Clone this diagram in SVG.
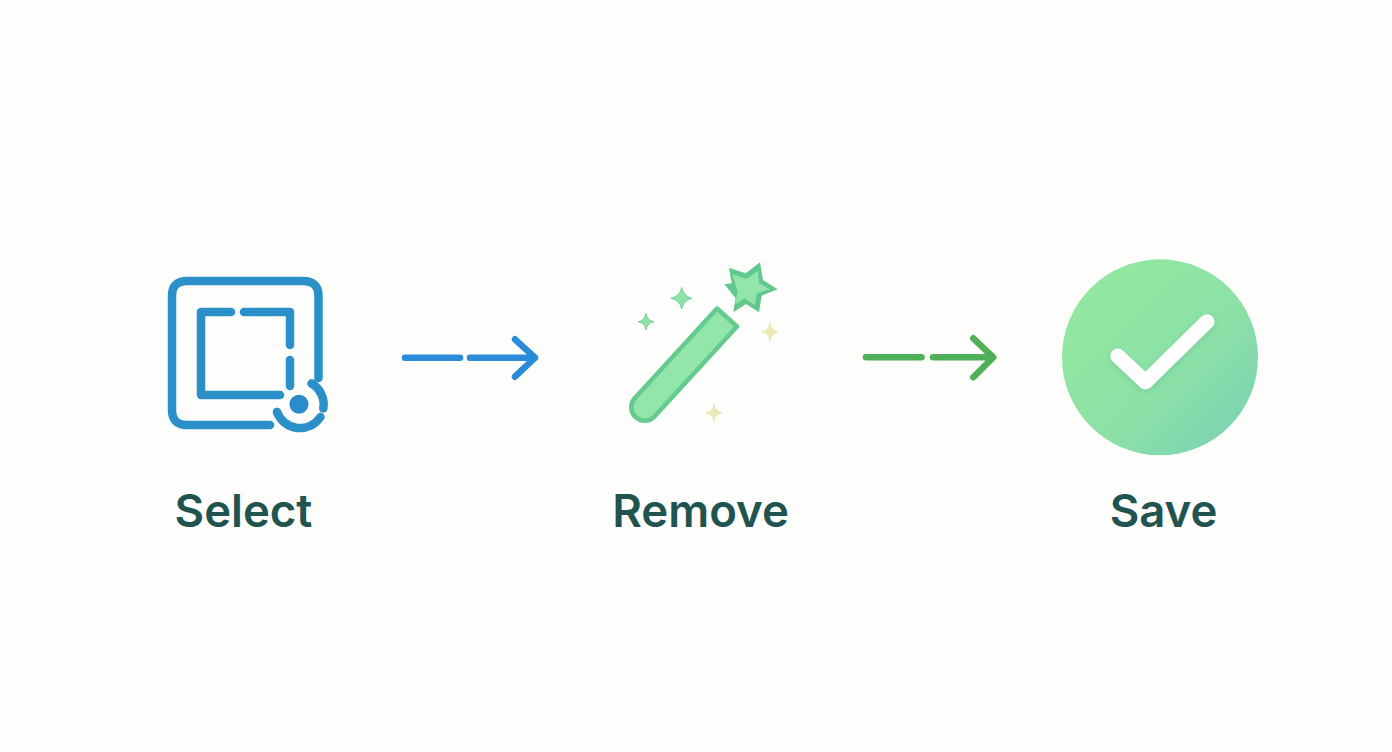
<svg xmlns="http://www.w3.org/2000/svg" width="1392" height="752" viewBox="0 0 1392 752">
<style>
.lbl{font-family:"Inter","Liberation Sans",sans-serif;font-size:45.5px;font-weight:600;fill:#1f5450;text-anchor:middle}
.sel{fill:none;stroke:#2b90c8;stroke-width:8.500;stroke-linecap:round;stroke-linejoin:round}
.blue{fill:none;stroke:#2a8bd8;stroke-width:6.500;stroke-linecap:round;stroke-linejoin:round}
.green{fill:none;stroke:#4fb058;stroke-width:6.500;stroke-linecap:round;stroke-linejoin:round}
.sg{fill:#8fe3a8;stroke:#6fd09a;stroke-width:1}
.sy{fill:#ecebb8;stroke:#e3deb0;stroke-width:0.800}
</style>
<defs>
<linearGradient id="cg" x1="0.2" y1="0.2" x2="1" y2="1"><stop offset="0" stop-color="#92e7a0"/><stop offset="0.5" stop-color="#8be0a8"/><stop offset="1" stop-color="#78cfb4"/></linearGradient>
<filter id="sh" x="-20%" y="-20%" width="140%" height="140%"><feGaussianBlur stdDeviation="3"/></filter>
</defs>
<rect width="1392" height="752" fill="#fdfdfc"/>
<g id="select">
<path class="sel" stroke-linecap="butt" d="M270 425H187Q172 425 172 410V296Q172 281 187 281H303Q318.500 281 318.500 296V378"/>
<path class="sel" d="M231 312H201V395H280M244 312H290V345M290 360V386"/>
<circle cx="299" cy="404.300" r="9.500" fill="#2b8ccb"/>
<path class="sel" stroke-width="9" stroke-linecap="butt" d="M311.700 383.500A24.500 24.500 0 0 1 323.300 408.500M320.500 417A24.500 24.500 0 0 1 277 412"/>
<path class="sel" stroke-width="9" d="M311.700 383.500h0M277 412h0"/>
<text class="lbl" x="243.500" y="527">Select</text>
</g>
<g id="remove">
<path d="M717 308.500L737 326.500L654 417A13.500 13.500 0 0 1 634 399Z" fill="#93e6ab" stroke="#62cb8d" stroke-width="4.500" stroke-linejoin="round"/>
<path d="M760 262.300L763 280L777.700 289.300L761.700 295.700L759 312.300L746 304L733.300 312.300L735.500 298L724.300 284.300L731.700 283.300L729 267.700L745.700 273.300Z" fill="#62c88e"/>
<path d="M757.700 271L759 283L770 289.300L756.700 293.300L755 305L744.300 298.300L735 304.300L737.700 291.700L732.300 274.300L746.700 279Z" fill="#93e6ab"/>
<path class="sg" d="M681.700 287.500Q683 296 692 298.300Q683 300.600 681.700 309Q680.400 300.600 671 298.300Q680.400 296 681.700 287.500Z"/>
<path class="sg" d="M646 313.500Q647 320.700 654 321.700Q647 322.700 646 330Q645 322.700 638 321.700Q645 320.700 646 313.500Z"/>
<path class="sy" d="M770 322.500Q771 330.700 778 331.700Q771 332.700 770 341Q769 332.700 762 331.700Q769 330.700 770 322.500Z"/>
<path class="sy" d="M714 404Q715 411.700 722 412.700Q715 413.700 714 421.500Q713 413.700 706 412.700Q713 411.700 714 404Z"/>
<text class="lbl" x="700.500" y="527">Remove</text>
</g>
<g id="save">
<circle cx="1160" cy="357.300" r="98" fill="url(#cg)"/>
<path d="M1117.700 358L1145.500 384L1207 323.700" fill="none" stroke="#4fa98a" stroke-opacity="0.350" stroke-width="15" stroke-linecap="round" stroke-linejoin="round" filter="url(#sh)"/>
<path d="M1117.700 356L1145.500 382L1207 321.700" fill="none" stroke="#fdfdfd" stroke-width="15" stroke-linecap="round" stroke-linejoin="round"/>
<text class="lbl" x="1163.500" y="527">Save</text>
</g>
<g id="connectors">
<path class="blue" d="M405 357.700H460M470 357.700H535M515 339.300L535 357.700L515 376.700"/>
<path class="green" d="M866 357.300H921.500M933 357.300H993M973.300 338.300L993.300 357.300L973.300 377.300"/>
</g>
</svg>
